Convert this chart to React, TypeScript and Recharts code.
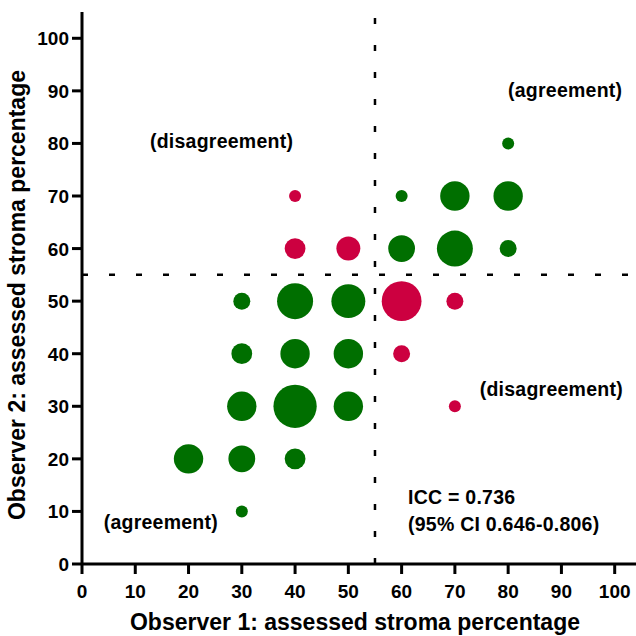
import React from "react";
import {
  ScatterChart,
  Scatter,
  XAxis,
  YAxis,
  ZAxis,
  ReferenceLine,
  ReferenceDot,
  Label,
} from "recharts";

// Observer 1 / Observer 2 assessed stroma percentages; n = number of cases
const agreeX = [30, 20, 30, 40, 30, 40, 50, 30, 40, 50, 30, 40, 50, 60, 70, 80, 60, 70, 80, 80];
const agreeY = [10, 20, 20, 20, 30, 30, 30, 40, 40, 40, 50, 50, 50, 60, 60, 60, 70, 70, 70, 80];
const agreeN = [1, 6, 5, 3, 6, 13, 6, 3, 6, 6, 2, 9, 8, 5, 9, 2, 1, 6, 6, 1];

const disagreeX = [40, 40, 50, 60, 70, 60, 70];
const disagreeY = [70, 60, 60, 50, 50, 40, 30];
const disagreeN = [1, 3, 4, 11, 2, 2, 1];

const xTicks = [0, 10, 20, 30, 40, 50, 60, 70, 80, 90, 100];
const yTicks = [0, 10, 20, 30, 40, 50, 60, 70, 80, 90, 100];

const cutoff = 55;

const annotations = [
  { x: 26.2, y: 79.1, text: "(disagreement)", anchor: "middle" },
  { x: 90.7, y: 88.8, text: "(agreement)", anchor: "middle" },
  { x: 88.1, y: 32.0, text: "(disagreement)", anchor: "middle" },
  { x: 14.8, y: 6.6, text: "(agreement)", anchor: "middle" },
  { x: 61.2, y: 11.35, text: "ICC = 0.736", anchor: "start" },
  { x: 61.2, y: 6.28, text: "(95% CI 0.646-0.806)", anchor: "start" },
];

const agreeData = agreeX.map((x, i) => ({ x, y: agreeY[i], n: agreeN[i] }));
const disagreeData = disagreeX.map((x, i) => ({ x, y: disagreeY[i], n: disagreeN[i] }));

const FONT = "'Liberation Sans', Arial, Helvetica, sans-serif";
const GREEN = "#006f00";
const RED = "#cc0040";

const XTick = (props: any) => {
  const { x, y, payload } = props;
  return (
    <text x={x} y={y + 22} textAnchor="middle" fontFamily={FONT} fontWeight="bold" fontSize={19} fill="#000">
      {payload.value}
    </text>
  );
};

const YTick = (props: any) => {
  const { x, y, payload } = props;
  return (
    <text x={x - 1} y={y + 7} textAnchor="end" fontFamily={FONT} fontWeight="bold" fontSize={19} fill="#000">
      {payload.value}
    </text>
  );
};

const makeAnn = (text: string, anchor: string) => (props: any) => {
  const vb = props.viewBox || {};
  const cx = (vb.x ?? 0) + (vb.width ?? 0) / 2;
  const cy = (vb.y ?? 0) + (vb.height ?? 0) / 2;
  return (
    <text
      x={cx}
      y={cy}
      textAnchor={anchor as any}
      fontFamily={FONT}
      fontWeight="bold"
      fontSize={19.5}
      letterSpacing={0.25}
      fill="#000"
    >
      {text}
    </text>
  );
};

export default function App() {
  return (
    <div style={{ position: "absolute", left: 0, top: 0, width: 636, height: 636, background: "#fff" }}>
      <ScatterChart width={636} height={636} margin={{ top: 12, right: 0, bottom: 0, left: 0 }}>
        <XAxis
          type="number"
          dataKey="x"
          domain={[0, 104]}
          ticks={xTicks}
          interval={0}
          height={72}
          axisLine={{ stroke: "#000", strokeWidth: 3 }}
          tickLine={{ stroke: "#000", strokeWidth: 3 }}
          tickSize={10}
          tick={<XTick />}
          allowDataOverflow
        >
          <Label
            content={(p: any) => {
              const vb = p.viewBox || {};
              return (
                <text
                  x={vb.x + vb.width / 2 - 4}
                  y={630}
                  textAnchor="middle"
                  fontFamily={FONT}
                  fontWeight="bold"
                  fontSize={23}
                  fill="#000"
                >
                  Observer 1: assessed stroma percentage
                </text>
              );
            }}
          />
        </XAxis>
        <YAxis
          type="number"
          dataKey="y"
          domain={[0, 105]}
          ticks={yTicks}
          interval={0}
          width={82}
          axisLine={{ stroke: "#000", strokeWidth: 3 }}
          tickLine={{ stroke: "#000", strokeWidth: 3 }}
          tickSize={10}
          tick={<YTick />}
          allowDataOverflow
        >
          <Label
            content={(p: any) => {
              const vb = p.viewBox || {};
              const cy = vb.y + vb.height / 2 + 7;
              return (
                <text
                  x={25}
                  y={cy}
                  transform={`rotate(-90, 25, ${cy})`}
                  textAnchor="middle"
                  fontFamily={FONT}
                  fontWeight="bold"
                  fontSize={23}
                  fill="#000"
                >
                  Observer 2: assessed stroma percentage
                </text>
              );
            }}
          />
        </YAxis>
        <ZAxis type="number" dataKey="n" domain={[0, 13]} range={[0, 13 * 113.1]} />
        <ReferenceLine x={cutoff} stroke="#000" strokeWidth={2.5} strokeDasharray="6 21" />
        <ReferenceLine y={cutoff} stroke="#000" strokeWidth={2.5} strokeDasharray="6 21" />
        <Scatter data={agreeData} fill={GREEN} isAnimationActive={false} />
        <Scatter data={disagreeData} fill={RED} isAnimationActive={false} />
        {annotations.map((a, i) => (
          <ReferenceDot
            key={i}
            x={a.x}
            y={a.y}
            r={0}
            fill="none"
            stroke="none"
            label={makeAnn(a.text, a.anchor)}
          />
        ))}
      </ScatterChart>
    </div>
  );
}
